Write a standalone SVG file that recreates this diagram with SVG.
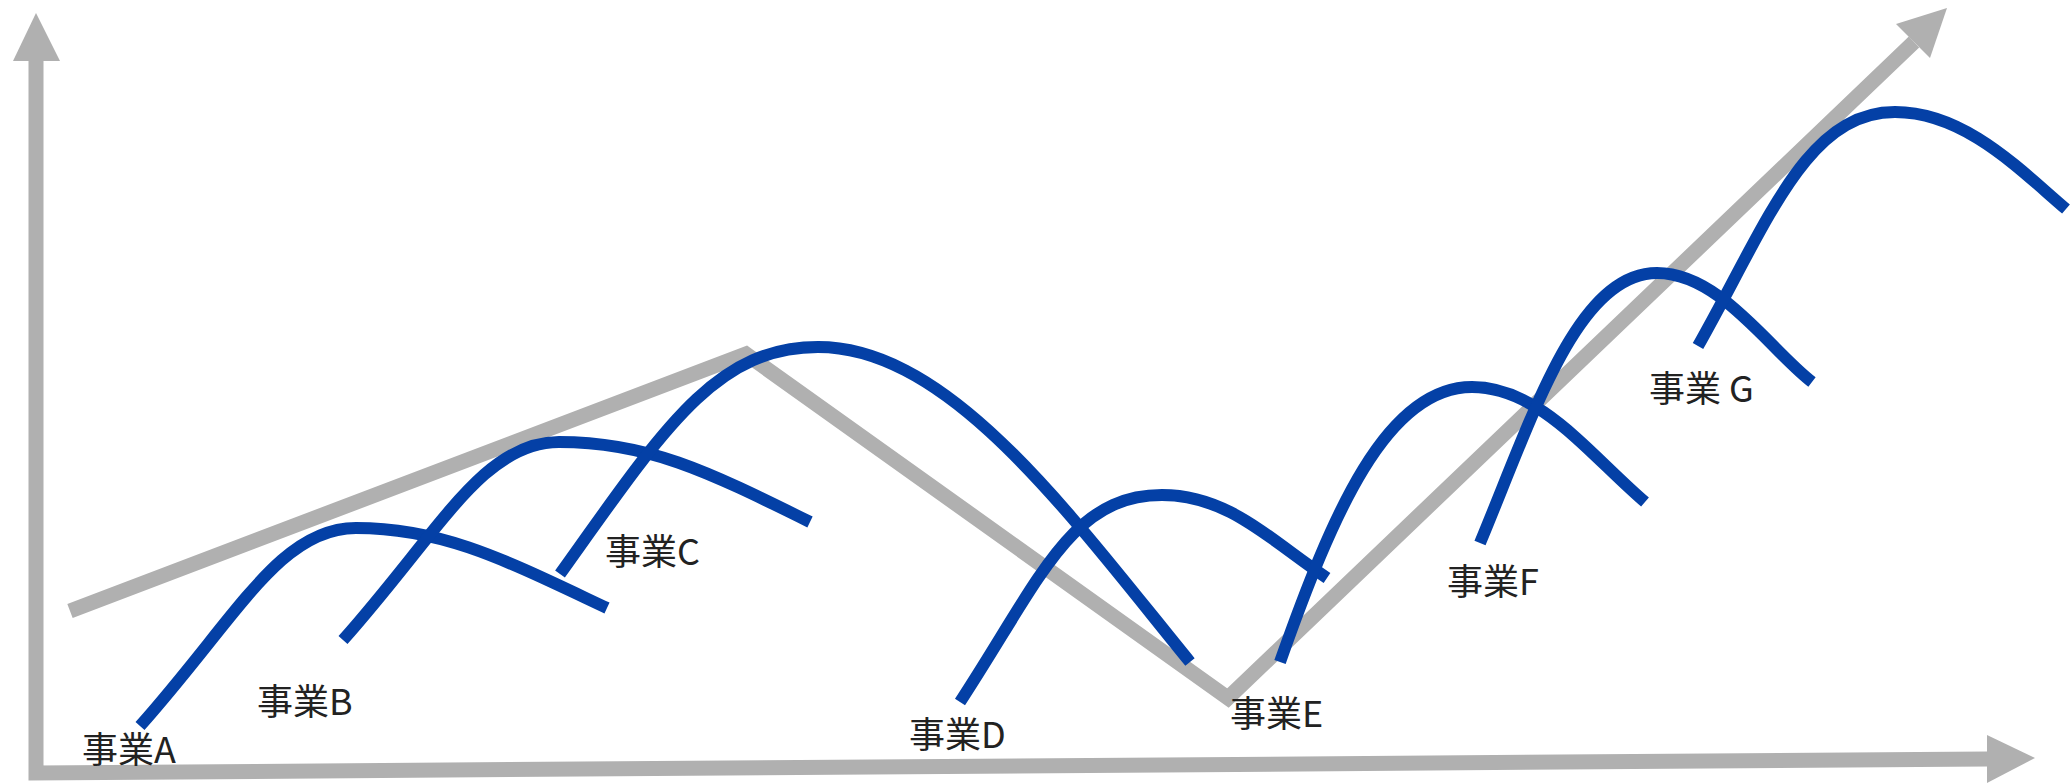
<svg xmlns="http://www.w3.org/2000/svg" width="2070" height="783" viewBox="0 0 2070 783">
<style>
.axis{fill:none;stroke:#b0b0b0;stroke-width:15;stroke-linejoin:miter;stroke-linecap:butt}
.head{fill:#b0b0b0}
.curve{fill:none;stroke:#0440a6;stroke-width:12;stroke-linecap:butt}
.lbl{font-family:"Noto Sans CJK JP","Noto Sans",sans-serif;font-size:36px;fill:#222}
</style>
<rect width="2070" height="783" fill="#fff"/>
<g id="connectors">
<path class="axis" d="M36,61 L36,773 L1988,759"/>
<polygon class="head" points="13,61 36,13 60,61"/>
<polygon class="head" points="1987,735 2035,758 1987,783"/>
<path class="axis" d="M70,611 L746,354 L1228,698 L1914,42"/>
<polygon class="head" points="1896,24 1947,8 1930,58"/>
</g>
<g id="node-a">
<path class="curve" d="M140,726 C237,617 280,528 356,528 C444,528 507,561 607,608"/>
<text class="lbl" x="82" y="763">事業A</text>
</g>
<g id="node-b">
<path class="curve" d="M343,640 C440,531 483,442 559,442 C647,442 705,470 810,522"/>
<text class="lbl" x="257" y="715">事業B</text>
</g>
<g id="node-c">
<path class="curve" d="M560,574 C663,430 715,347 818,347 C950,347 1070,515 1190,662"/>
<text class="lbl" x="605" y="565">事業C</text>
</g>
<g id="node-d">
<path class="curve" d="M960,702 C1041,578 1071,495 1162,495 C1228,495 1269,539 1327,578"/>
<text class="lbl" x="909" y="748">事業D</text>
</g>
<g id="node-e">
<path class="curve" d="M1280,662 C1332,515 1386,387 1472,387 C1540,387 1590,455 1645,502"/>
<text class="lbl" x="1230" y="727">事業E</text>
</g>
<g id="node-f">
<path class="curve" d="M1480,543 C1533,416 1577,273 1657,273 C1720,273 1770,350 1812,382"/>
<text class="lbl" x="1447" y="595">事業F</text>
</g>
<g id="node-g">
<path class="curve" d="M1698,346 C1767,224 1806,112 1895,112 C1965,112 2020,170 2066,209"/>
<text class="lbl" x="1649" y="402">事業 G</text>
</g>
</svg>
